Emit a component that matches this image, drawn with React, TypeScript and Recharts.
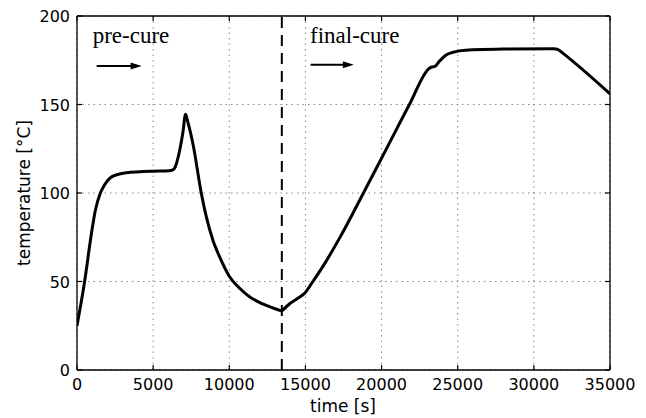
import { CartesianGrid, Line, LineChart, ReferenceLine, XAxis, YAxis } from 'recharts';

// cure cycle: oven temperature over time
const timeS = [
  0, 250, 500, 945, 1200, 1535, 1800, 2145, 2600, 3240, 4100, 5000, 6080, 6250, 6410, 6740, 6950,
  7130, 7250, 7610, 8160, 8490, 8920, 9360, 10020, 10680, 11330, 12200, 13450,
  13950, 14500, 14940, 15490, 16140, 17240, 18810, 20410, 21830, 23140, 23300, 23500, 23800, 24240,
  24700, 25110, 26000, 28000, 31300, 31600, 31900, 35000,
];
const tempC = [
  25, 37, 50, 77, 90, 100, 104.5, 108.3, 110.3, 111.5, 112, 112.3, 112.6, 112.9, 114, 124, 134,
  144.5, 141, 128, 100, 86.6, 73.4, 64, 52.7, 46.2, 41.4, 37.3, 33.3,
  37.3, 40.5, 43.3, 50, 58.4, 74.5, 100, 126.5, 150, 170.5, 171.2, 171.5, 174.5, 178,
  179.5, 180.3, 181, 181.3, 181.5, 181, 179, 156,
];
const xTicks = [0, 5000, 10000, 15000, 20000, 25000, 30000, 35000];
const yTicks = [0, 50, 100, 150, 200];
const stageSplit = 13450;

const W = 646;
const H = 418;
const M = { top: 6, right: 26, bottom: 18, left: 17 };
const Y_AXIS_W = 60;
const X_AXIS_H = 30;
const EDGE = 10;
const X_MAX = 35000;
const Y_MAX = 200;

const data = timeS.map((t, i) => ({ t, temp: tempC[i] }));
// split at the cooling minimum so the curve keeps its corner there
const minIdx = tempC.indexOf(33.3);
const preCure = data.slice(0, minIdx + 1);
const finalCure = data.slice(minIdx);

const plotL = M.left + Y_AXIS_W;
const plotR = W - M.right - EDGE;
const plotT = M.top + EDGE;
const plotB = H - M.bottom - X_AXIS_H;
const px = (v: number) => plotL + (v / X_MAX) * (plotR - plotL);
const py = (v: number) => plotT + (1 - v / Y_MAX) * (plotB - plotT);

const tickFont = { fontFamily: 'DejaVu Sans', fontSize: 16, fill: '#000' };
const axisLine = { stroke: '#000', strokeWidth: 1.3 };

const BottomTick = ({ x, y, payload }: any) => (
  <g>
    <line x1={x} y1={y} x2={x} y2={y - 5} stroke='#000' strokeWidth={1.2} />
    <text x={x} y={y + 20} textAnchor='middle' {...tickFont}>
      {payload.value}
    </text>
  </g>
);
const TopTick = ({ x, y }: any) => (
  <line x1={x} y1={y} x2={x} y2={y + 5} stroke='#000' strokeWidth={1.2} />
);
const LeftTick = ({ x, y, payload }: any) => (
  <g>
    <line x1={x} y1={y} x2={x + 5} y2={y} stroke='#000' strokeWidth={1.2} />
    <text x={x - 7} y={y + 6} textAnchor='end' {...tickFont}>
      {payload.value}
    </text>
  </g>
);
const RightTick = ({ x, y }: any) => (
  <line x1={x} y1={y} x2={x - 5} y2={y} stroke='#000' strokeWidth={1.2} />
);

const Arrow = ({ from, to, at }: { from: number; to: number; at: number }) => {
  const x1 = px(from);
  const x2 = px(to);
  const y = py(at);
  return (
    <g>
      <line x1={x1} y1={y} x2={x2 - 8} y2={y} stroke='#000' strokeWidth={2} />
      <polygon points={`${x2},${y} ${x2 - 11},${y - 3.5} ${x2 - 11},${y + 3.5}`} fill='#000' />
    </g>
  );
};

export default function App() {
  const serif = { fontFamily: 'Liberation Serif', fontSize: 23, fill: '#000' };
  return (
    <div style={{ position: 'absolute', left: 0, top: 0, width: W, height: H, background: '#fff' }}>
      <LineChart width={W} height={H} margin={M}>
        <CartesianGrid stroke='#888' strokeDasharray='1.5 4' strokeWidth={1} />
        <XAxis
          dataKey='t'
          type='number'
          domain={[0, X_MAX]}
          ticks={xTicks}
          height={X_AXIS_H}
          tickSize={0}
          tickMargin={0}
          axisLine={axisLine}
          tick={<BottomTick />}
          interval={0}
          allowDataOverflow
        />
        <XAxis
          xAxisId='top'
          orientation='top'
          dataKey='t'
          type='number'
          domain={[0, X_MAX]}
          ticks={xTicks}
          height={EDGE}
          tickSize={0}
          tickMargin={0}
          axisLine={axisLine}
          tick={<TopTick />}
          interval={0}
          allowDataOverflow
        />
        <YAxis
          type='number'
          domain={[0, Y_MAX]}
          ticks={yTicks}
          width={Y_AXIS_W}
          tickSize={0}
          tickMargin={0}
          axisLine={axisLine}
          tick={<LeftTick />}
          interval={0}
          allowDataOverflow
        />
        <YAxis
          yAxisId='right'
          orientation='right'
          type='number'
          domain={[0, Y_MAX]}
          ticks={yTicks}
          width={EDGE}
          tickSize={0}
          tickMargin={0}
          axisLine={axisLine}
          tick={<RightTick />}
          interval={0}
          allowDataOverflow
        />
        <ReferenceLine x={stageSplit} stroke='#000' strokeWidth={2} strokeDasharray='11 7' />
        <Line
          data={preCure}
          dataKey='temp'
          type='monotone'
          stroke='#000'
          strokeWidth={3}
          dot={false}
          isAnimationActive={false}
        />
        <Line
          data={finalCure}
          dataKey='temp'
          type='monotone'
          stroke='#000'
          strokeWidth={3}
          dot={false}
          isAnimationActive={false}
        />
      </LineChart>
      <svg width={W} height={H} style={{ position: 'absolute', left: 0, top: 0, pointerEvents: 'none' }}>
        <text x={px(1030)} y={py(184.5)} {...serif}>
          pre-cure
        </text>
        <Arrow from={1290} to={4245} at={171.8} />
        <text x={px(15300)} y={py(184.5)} {...serif}>
          final-cure
        </text>
        <Arrow from={15340} to={18180} at={172.5} />
        <text
          x={343}
          y={412}
          textAnchor='middle'
          fontFamily='DejaVu Sans'
          fontSize={17}
          fill='#000'>
          time [s]
        </text>
        <text
          x={0}
          y={0}
          transform={`translate(30, ${py(100)}) rotate(-90)`}
          textAnchor='middle'
          fontFamily='DejaVu Sans'
          fontSize={17}
          fill='#000'>
          temperature [°C]
        </text>
      </svg>
    </div>
  );
}
